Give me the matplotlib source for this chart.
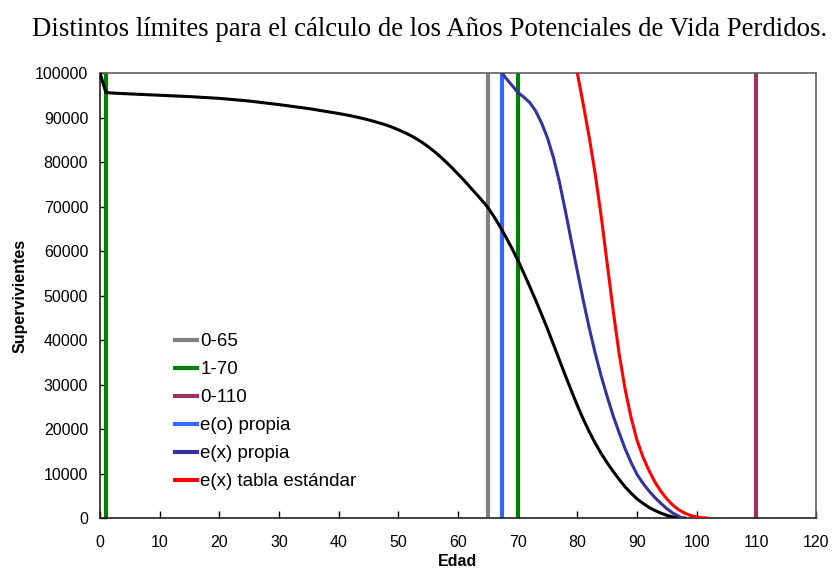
import matplotlib
matplotlib.use("Agg")
import matplotlib.pyplot as plt

plt.rcParams['font.family'] = ['Liberation Sans', 'DejaVu Sans']

# Survivors by age (own life table)
edad_lx = [0, 1, 2, 5, 10, 15, 20, 25, 30, 35, 40, 42, 44, 46, 48, 49, 50, 51, 52, 53,
           54, 55, 56, 57, 58, 59, 60, 61, 62, 63, 64, 65, 66, 67, 68, 69, 70, 71, 72,
           73, 74, 75, 76, 77, 78, 79, 80, 81, 82, 83, 84, 85, 86, 87, 88, 89, 90, 91,
           92, 93, 94, 95, 96, 97, 98]
lx = [100000, 95600, 95500, 95300, 95000, 94700, 94300, 93700, 92900, 92000, 90900,
      90400, 89800, 89100, 88300, 87800, 87250, 86650, 86000, 85250, 84400, 83450,
      82400, 81250, 80000, 78700, 77300, 75900, 74400, 72900, 71400, 69800, 67800,
      65600, 63200, 60700, 58000, 55100, 52100, 49000, 45800, 42500, 39000, 35500,
      32000, 28600, 25300, 22200, 19400, 16800, 14500, 12400, 10500, 8700, 7000,
      5600, 4300, 3300, 2400, 1700, 1100, 600, 250, 60, 0]

# Survivors past the own life expectancy at birth, e(x) propia
edad_ex_propia = [67.4, 68, 69, 70, 71, 72, 73, 74, 75, 76, 77, 78, 79, 80, 81, 82, 83,
                  84, 85, 86, 87, 88, 89, 90, 91, 92, 93, 94, 95, 96, 97, 97.5]
ex_propia = [100000, 98900, 97300, 95700, 94600, 93400, 91500, 88800, 85400, 81000,
             75500, 69000, 62200, 55500, 48900, 42700, 37000, 31900, 27300, 23000,
             19200, 15600, 12500, 9800, 7800, 6100, 4600, 3300, 2100, 1100, 400, 0]

# Survivors under the standard table, e(x) tabla estándar
edad_ex_std = [80, 81, 82, 83, 84, 85, 86, 87, 88, 89, 90, 91, 92, 93, 94, 95, 96, 97,
               98, 99, 100, 101, 101.7]
ex_std = [100000, 92900, 85500, 77300, 67800, 57200, 46700, 37000, 29000, 22600, 17500,
          13700, 10700, 8100, 6000, 4300, 2900, 1850, 1100, 550, 220, 60, 0]

# Age limits (vertical lines)
limites = ['0-65', '1-70', '0-110', 'e(o) propia']
limites_edad = [65, 70, 110, 67.4]
limite_inf_1_70 = 1
limites_color = ['#808080', '#008000', '#993366', '#3366FF']

x_ticks = list(range(0, 121, 10))
y_ticks = list(range(0, 100001, 10000))

fig = plt.figure(figsize=(8.33, 5.69), dpi=100)
ax = fig.add_axes([0.12, 0.0896, 0.8596, 0.7821])

ax.plot(edad_lx, lx, color='black', lw=2.2, zorder=3, solid_joinstyle='round')

handles = []
for nombre, edad, color in zip(limites, limites_edad, limites_color):
    h = ax.axvline(edad, color=color, lw=3, label=nombre, zorder=2)
    handles.append(h)
ax.axvline(limite_inf_1_70, color=limites_color[1], lw=3, zorder=2)

h1, = ax.plot(edad_ex_propia, ex_propia, color='#333399', lw=2.2,
              label='e(x) propia', zorder=3, solid_joinstyle='round')
h2, = ax.plot(edad_ex_std, ex_std, color='#FF0000', lw=2.2,
              label='e(x) tabla estándar', zorder=3, solid_joinstyle='round')
handles += [h1, h2]

ax.set_xlim(0, 120)
ax.set_ylim(0, 100000)
ax.set_xticks(x_ticks)
ax.set_yticks(y_ticks)
ax.tick_params(direction='in', length=5, width=1, labelsize=11.5, colors='black')
ax.tick_params(axis='x', pad=12)
ax.tick_params(axis='y', pad=8.5)

for side in ['left', 'bottom']:
    ax.spines[side].set_color('#202020')
    ax.spines[side].set_linewidth(1.2)
for side in ['top', 'right']:
    ax.spines[side].set_color('#606060')
    ax.spines[side].set_linewidth(1.2)

ax.set_xlabel('Edad', fontsize=11.5, fontweight='bold', labelpad=3)
ax.set_ylabel('Supervivientes', fontsize=11.5, fontweight='bold', labelpad=5)

leg = ax.legend(handles=handles, loc='upper left', bbox_to_anchor=(0.094, 0.432),
                frameon=False, fontsize=13.5, handlelength=1.17, handletextpad=0.2,
                labelspacing=0.58, borderaxespad=0)
for line in leg.get_lines():
    line.set_linewidth(3)

fig.text(0.5156, 0.949,
         'Distintos límites para el cálculo de los Años Potenciales de Vida Perdidos.',
         ha='center', va='center', fontsize=19.3,
         family=['Liberation Serif', 'DejaVu Serif'])

fig.savefig('out.png', dpi=100)
